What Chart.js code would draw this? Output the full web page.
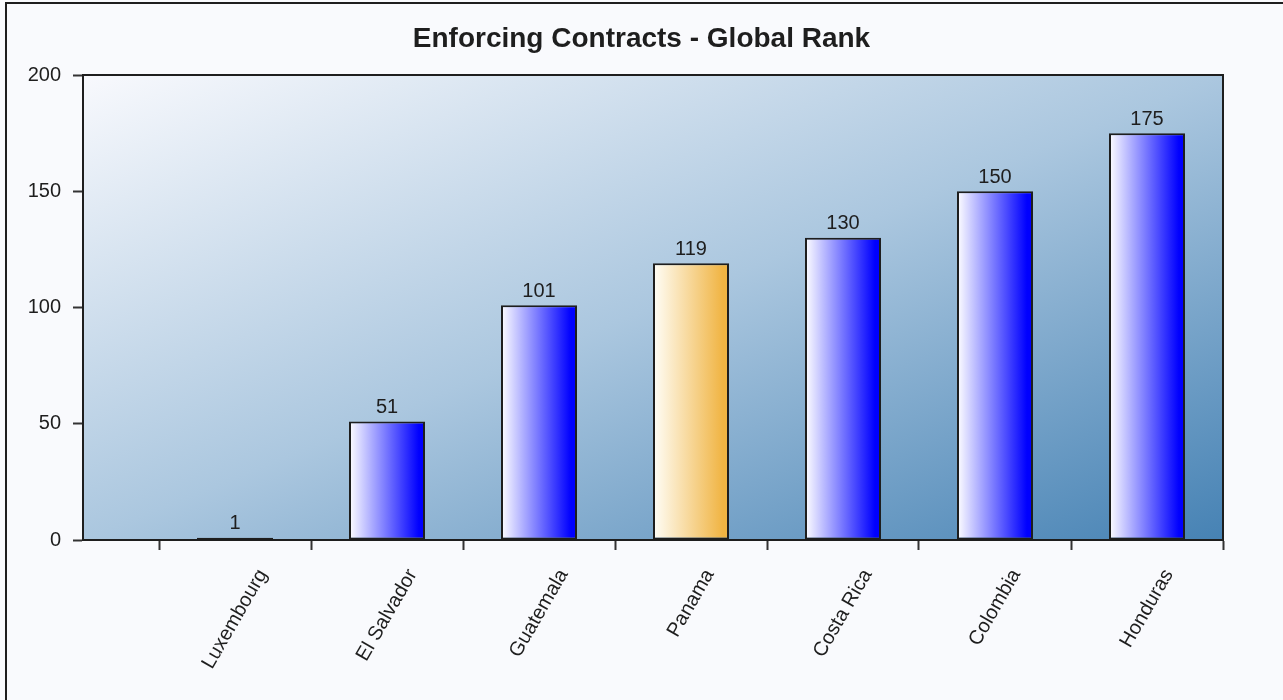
<!DOCTYPE html>
<html>
<head>
<meta charset="utf-8">
<script src="https://cdn.jsdelivr.net/npm/chart.js@4/dist/chart.umd.min.js"></script>
<style>
    body { margin: 0; background: #f9fafd; overflow: hidden; }
</style>
</head>
<body>
<canvas id="myChart" width="1283" height="700"></canvas>
<script>
const categories = ['Luxembourg', 'El Salvador', 'Guatemala', 'Panama', 'Costa Rica', 'Colombia', 'Honduras']
const ranks = [1, 51, 101, 119, 130, 150, 175]
const highlight = 'Panama'
const yTicks = [0, 50, 100, 150, 200]
const titleText = 'Enforcing Contracts - Global Rank'

const FONT = '"Liberation Sans", Arial, sans-serif'
const TEXT = '#1e1e1e'

// tick marks sit between the categories
const boundaries = categories.map((c, idx) => idx - 0.5).concat([categories.length - 0.5])

const barFill = (context) => {
    const chart = context.chart
    const idx = context.dataIndex
    const x = chart.scales.x
    if (!chart.chartArea || idx === undefined) return '#6060ff'
    const left = x.getPixelForValue(idx - 0.25)
    const right = x.getPixelForValue(idx + 0.25)
    const grad = chart.ctx.createLinearGradient(left, 0, right, 0)
    if (categories[idx] == highlight) {
        grad.addColorStop(0, '#fffef8')
        grad.addColorStop(0.92, '#f0b443')
        grad.addColorStop(1, '#f0b443')
    } else {
        grad.addColorStop(0, '#ffffff')
        grad.addColorStop(0.92, '#0000ff')
        grad.addColorStop(1, '#0000ff')
    }
    return grad
}

const backgroundPlugin = {
    id: 'plotBackground',
    beforeDraw: (chart) => {
        const ctx = chart.ctx
        const a = chart.chartArea
        ctx.save()
        ctx.fillStyle = '#f9fafd'
        ctx.fillRect(0, 0, chart.width, chart.height)
        // outer frame
        ctx.strokeStyle = '#1e1e1e'
        ctx.lineWidth = 2
        ctx.strokeRect(6, 3, chart.width + 10, chart.height + 10)

        const W = a.right - a.left
        const H = a.bottom - a.top
        const t = 2 / (H / W + W / H)
        const grad = ctx.createLinearGradient(a.left, a.top, a.left + t * H, a.top + t * W)
        grad.addColorStop(0, '#f8f9fd')
        grad.addColorStop(0.5, '#abc7df')
        grad.addColorStop(1, '#4682b4')
        ctx.fillStyle = grad
        ctx.fillRect(a.left, a.top, W, H)

        ctx.beginPath()
        ctx.moveTo(a.left, a.top)
        ctx.lineTo(a.right, a.top)
        ctx.stroke()
        ctx.restore()
    }
}

const valueLabels = {
    id: 'valueLabels',
    afterDatasetsDraw: (chart) => {
        const ctx = chart.ctx
        const meta = chart.getDatasetMeta(0)
        ctx.save()
        ctx.font = `20px ${FONT}`
        ctx.fillStyle = TEXT
        ctx.textAlign = 'center'
        ctx.textBaseline = 'bottom'
        meta.data.forEach((bar, idx) => {
            ctx.fillText(String(ranks[idx]), bar.x, bar.y - 4)
        })
        ctx.restore()
    }
}

const categoryLabels = {
    id: 'categoryLabels',
    afterDraw: (chart) => {
        const ctx = chart.ctx
        const x = chart.scales.x
        const top = chart.chartArea.bottom + 26
        const ang = Math.PI / 3
        ctx.save()
        ctx.font = `20px ${FONT}`
        ctx.fillStyle = TEXT
        ctx.textAlign = 'center'
        ctx.textBaseline = 'middle'
        categories.forEach((label, idx) => {
            const w = ctx.measureText(label).width
            const cx = x.getPixelForValue(idx)
            const cy = top + (w / 2) * Math.sin(ang) + 5
            ctx.save()
            ctx.translate(cx, cy)
            ctx.rotate(-ang)
            ctx.fillText(label, 0, 0)
            ctx.restore()
        })
        ctx.restore()
    }
}

let ctx = document.getElementById('myChart').getContext('2d')

const myChart = new Chart(ctx, {
    type: 'bar',
    data: {
        datasets: [{
            label: 'Global Rank',
            data: ranks.map((val, idx) => ({ x: idx, y: val })),
            backgroundColor: barFill,
            borderColor: '#1e1e1e',
            borderWidth: 2,
            borderSkipped: false,
            barPercentage: 0.5,
            categoryPercentage: 1
        }]
    },
    options: {
        responsive: false,
        animation: false,
        layout: { padding: { left: 0, right: 0, top: 0, bottom: 0 } },
        plugins: {
            legend: { display: false },
            tooltip: { enabled: false },
            title: {
                display: true,
                text: titleText,
                color: TEXT,
                font: { family: FONT, size: 28, weight: 'bold' },
                padding: { top: 22, bottom: 19.4 }
            }
        },
        scales: {
            x: {
                type: 'linear',
                min: -1,
                max: categories.length - 0.5,
                bounds: 'data',
                offset: false,
                afterBuildTicks: (scale) => {
                    scale.ticks = boundaries.map(v => ({ value: v }))
                },
                afterFit: (scale) => { scale.height = 160 },
                grid: {
                    offset: false,
                    drawOnChartArea: false,
                    drawTicks: true,
                    tickLength: 10,
                    tickWidth: 2,
                    color: '#333333'
                },
                border: { display: true, color: '#1e1e1e', width: 2 },
                ticks: { display: false }
            },
            y: {
                min: 0,
                max: 200,
                afterBuildTicks: (scale) => {
                    scale.ticks = yTicks.map(v => ({ value: v }))
                },
                afterFit: (scale) => { scale.width = 83 },
                grid: {
                    drawOnChartArea: false,
                    tickLength: 10,
                    tickWidth: 2,
                    color: '#333333'
                },
                border: { display: true, color: '#1e1e1e', width: 2 },
                ticks: {
                    color: TEXT,
                    padding: 12,
                    font: { family: FONT, size: 20 }
                }
            },
            y2: {
                position: 'right',
                min: 0,
                max: 200,
                afterFit: (scale) => { scale.width = 60 },
                grid: { drawOnChartArea: false, drawTicks: false },
                border: { display: true, color: '#1e1e1e', width: 2 },
                ticks: { display: false }
            }
        }
    },
    plugins: [backgroundPlugin, valueLabels, categoryLabels]
})
</script>
</body>
</html>
